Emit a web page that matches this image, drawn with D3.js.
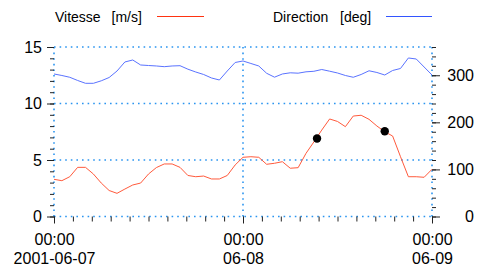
<!DOCTYPE html>
<html>
<head>
<meta charset="utf-8">
<script src="https://cdn.jsdelivr.net/npm/d3@7"></script>
<style>
  body { margin: 0; background: #fff; }
  text { font-family: "Liberation Sans", Arial, sans-serif; fill: #000; }
</style>
</head>
<body>
<div id="chart"></div>
<script>
// hourly samples, 2001-06-07 00:00 -> 2001-06-09 00:00
const startTime = "2001-06-07T00:00:00Z";
const endTime = "2001-06-09T00:00:00Z";

const speed = [
    3.29, 3.17, 3.52, 4.35, 4.35, 3.76, 2.96, 2.30, 2.05, 2.43,
    2.79, 2.96, 3.76, 4.33, 4.65, 4.65, 4.35, 3.63, 3.52, 3.58,
    3.32, 3.32, 3.63, 4.56, 5.24, 5.29, 5.24, 4.62, 4.71, 4.85,
    4.27, 4.32, 5.59, 6.60, 7.65, 8.63, 8.41, 7.95, 8.89, 8.96,
    8.60, 8.01, 7.50, 7.12, 5.29, 3.52, 3.52, 3.47, 4.18
];
const direction = [
    302.7, 299.5, 295.7, 288.9, 282.9, 282.9, 288.2, 295.2, 309.0, 328.2,
    332.4, 321.8, 320.7, 319.7, 318.2, 319.7, 320.3, 312.9, 306.9, 301.6,
    294.2, 289.9, 309.0, 327.1, 330.3, 325.0, 319.7, 304.2, 295.9, 302.7,
    305.2, 304.4, 307.3, 308.4, 312.2, 308.6, 304.8, 299.5, 295.7, 301.6,
    309.5, 305.9, 300.5, 310.1, 314.4, 336.7, 334.5, 317.5, 300.5
];

// isolated speed measurements (black dots)
const markTimes = ["2001-06-08T09:24:00Z", "2001-06-08T18:00:00Z"];
const markValues = [6.9, 7.55];

const speedTicks = [0, 5, 10, 15];
const dirTicks = [0, 100, 200, 300];
const dayLabels = [["00:00", "2001-06-07"], ["00:00", "06-08"], ["00:00", "06-09"]];

const margin = {top: 47, right: 48, bottom: 54.5, left: 54},
    width = 480 - margin.left - margin.right,
    height = 271 - margin.top - margin.bottom;

const svgRoot = d3.select("#chart")
    .append("svg")
    .attr("width", 480)
    .attr("height", 271);

const svg = svgRoot.append("g")
    .attr("transform", `translate(${margin.left},${margin.top})`);

const t0 = new Date(startTime), t1 = new Date(endTime);
const hours = d3.range(speed.length).map((h) => new Date(+t0 + h * 3600e3));

const x = d3.scaleUtc().domain([t0, t1]).range([0, width]);
const ySpeed = d3.scaleLinear().domain([0, 15]).range([height, 0]);
const yDir = d3.scaleLinear().domain([0, 360]).range([height, 0]);

const gridColor = "#2b95f0";
const speedColor = "#ff5a3c";
const dirColor = "#5a73ff";
const dayTicks = [t0, new Date(+t0 + 24 * 3600e3), t1];

// dotted grid
svg.append("g")
    .selectAll("line.hgrid")
    .data(speedTicks)
    .join("line")
    .attr("x1", 0).attr("x2", width)
    .attr("y1", (d) => ySpeed(d)).attr("y2", (d) => ySpeed(d))
    .attr("stroke", gridColor)
    .attr("stroke-width", 1.6)
    .attr("stroke-dasharray", "1.6 4");

svg.append("g")
    .selectAll("line.vgrid")
    .data(dayTicks)
    .join("line")
    .attr("x1", (d) => x(d)).attr("x2", (d) => x(d))
    .attr("y1", 0).attr("y2", height)
    .attr("stroke", gridColor)
    .attr("stroke-width", 1.6)
    .attr("stroke-dasharray", "1.6 4");

// ticks (axis lines hidden, the grid acts as frame)
function styleAxis(g) {
    g.select(".domain").remove();
    g.selectAll(".tick line").attr("stroke", "#222");
    g.selectAll("text").style("font-size", "16px");
}

svg.append("g")
    .call(d3.axisLeft(ySpeed).tickValues(d3.range(0, 16, 1)).tickSize(4).tickFormat(""))
    .call(styleAxis);
svg.append("g")
    .call(d3.axisLeft(ySpeed).tickValues(speedTicks).tickSize(7).tickPadding(5).tickFormat(d3.format("d")))
    .call(styleAxis);

svg.append("g")
    .attr("transform", `translate(${width},0)`)
    .call(d3.axisRight(yDir).tickValues(d3.range(0, 361, 20)).tickSize(4).tickFormat(""))
    .call(styleAxis);
const rightAxis = svg.append("g")
    .attr("transform", `translate(${width},0)`)
    .call(d3.axisRight(yDir).tickValues(dirTicks).tickSize(8).tickFormat(d3.format("d")))
    .call(styleAxis);
rightAxis.selectAll("text").attr("text-anchor", "end").attr("x", 42);

const minorTimes = d3.range(0, 48.01, 2.4).map((h) => new Date(+t0 + h * 3600e3));
svg.append("g")
    .attr("transform", `translate(0,${height})`)
    .call(d3.axisBottom(x).tickValues(minorTimes).tickSize(5).tickFormat(""))
    .call(styleAxis);
const bottomAxis = svg.append("g")
    .attr("transform", `translate(0,${height})`)
    .call(d3.axisBottom(x).tickValues(dayTicks).tickSize(7).tickFormat(""))
    .call(styleAxis);

bottomAxis.selectAll(".tick")
    .append("text")
    .attr("text-anchor", "middle")
    .style("font-size", "16px")
    .selectAll("tspan")
    .data((d, i) => dayLabels[i])
    .join("tspan")
    .attr("x", 0)
    .attr("y", (d, j) => 28.5 + j * 18.5)
    .text((d) => d);

// series
svg.append("path")
    .datum(direction)
    .attr("fill", "none")
    .attr("stroke", dirColor)
    .attr("stroke-width", 1)
    .attr("d", d3.line().x((d, i) => x(hours[i])).y((d) => yDir(d)));

svg.append("path")
    .datum(speed)
    .attr("fill", "none")
    .attr("stroke", speedColor)
    .attr("stroke-width", 1)
    .attr("d", d3.line().x((d, i) => x(hours[i])).y((d) => ySpeed(d)));

svg.append("g")
    .selectAll("circle")
    .data(markValues)
    .join("circle")
    .attr("cx", (d, i) => x(new Date(markTimes[i])))
    .attr("cy", (d) => ySpeed(d))
    .attr("r", 4.2)
    .attr("fill", "#000");

// legend
const legend = svgRoot.append("g").style("font-size", "14px");
legend.append("text").attr("x", 55).attr("y", 21.5).text("Vitesse");
legend.append("text").attr("x", 111.5).attr("y", 21.5).text("[m/s]");
legend.append("line")
    .attr("x1", 157).attr("x2", 204).attr("y1", 16.5).attr("y2", 16.5)
    .attr("stroke", "#ff3311").attr("stroke-width", 1);
legend.append("text").attr("x", 273).attr("y", 21.5).text("Direction");
legend.append("text").attr("x", 340).attr("y", 21.5).text("[deg]");
legend.append("line")
    .attr("x1", 386).attr("x2", 432).attr("y1", 16.5).attr("y2", 16.5)
    .attr("stroke", "#3355ff").attr("stroke-width", 1);
</script>
</body>
</html>
